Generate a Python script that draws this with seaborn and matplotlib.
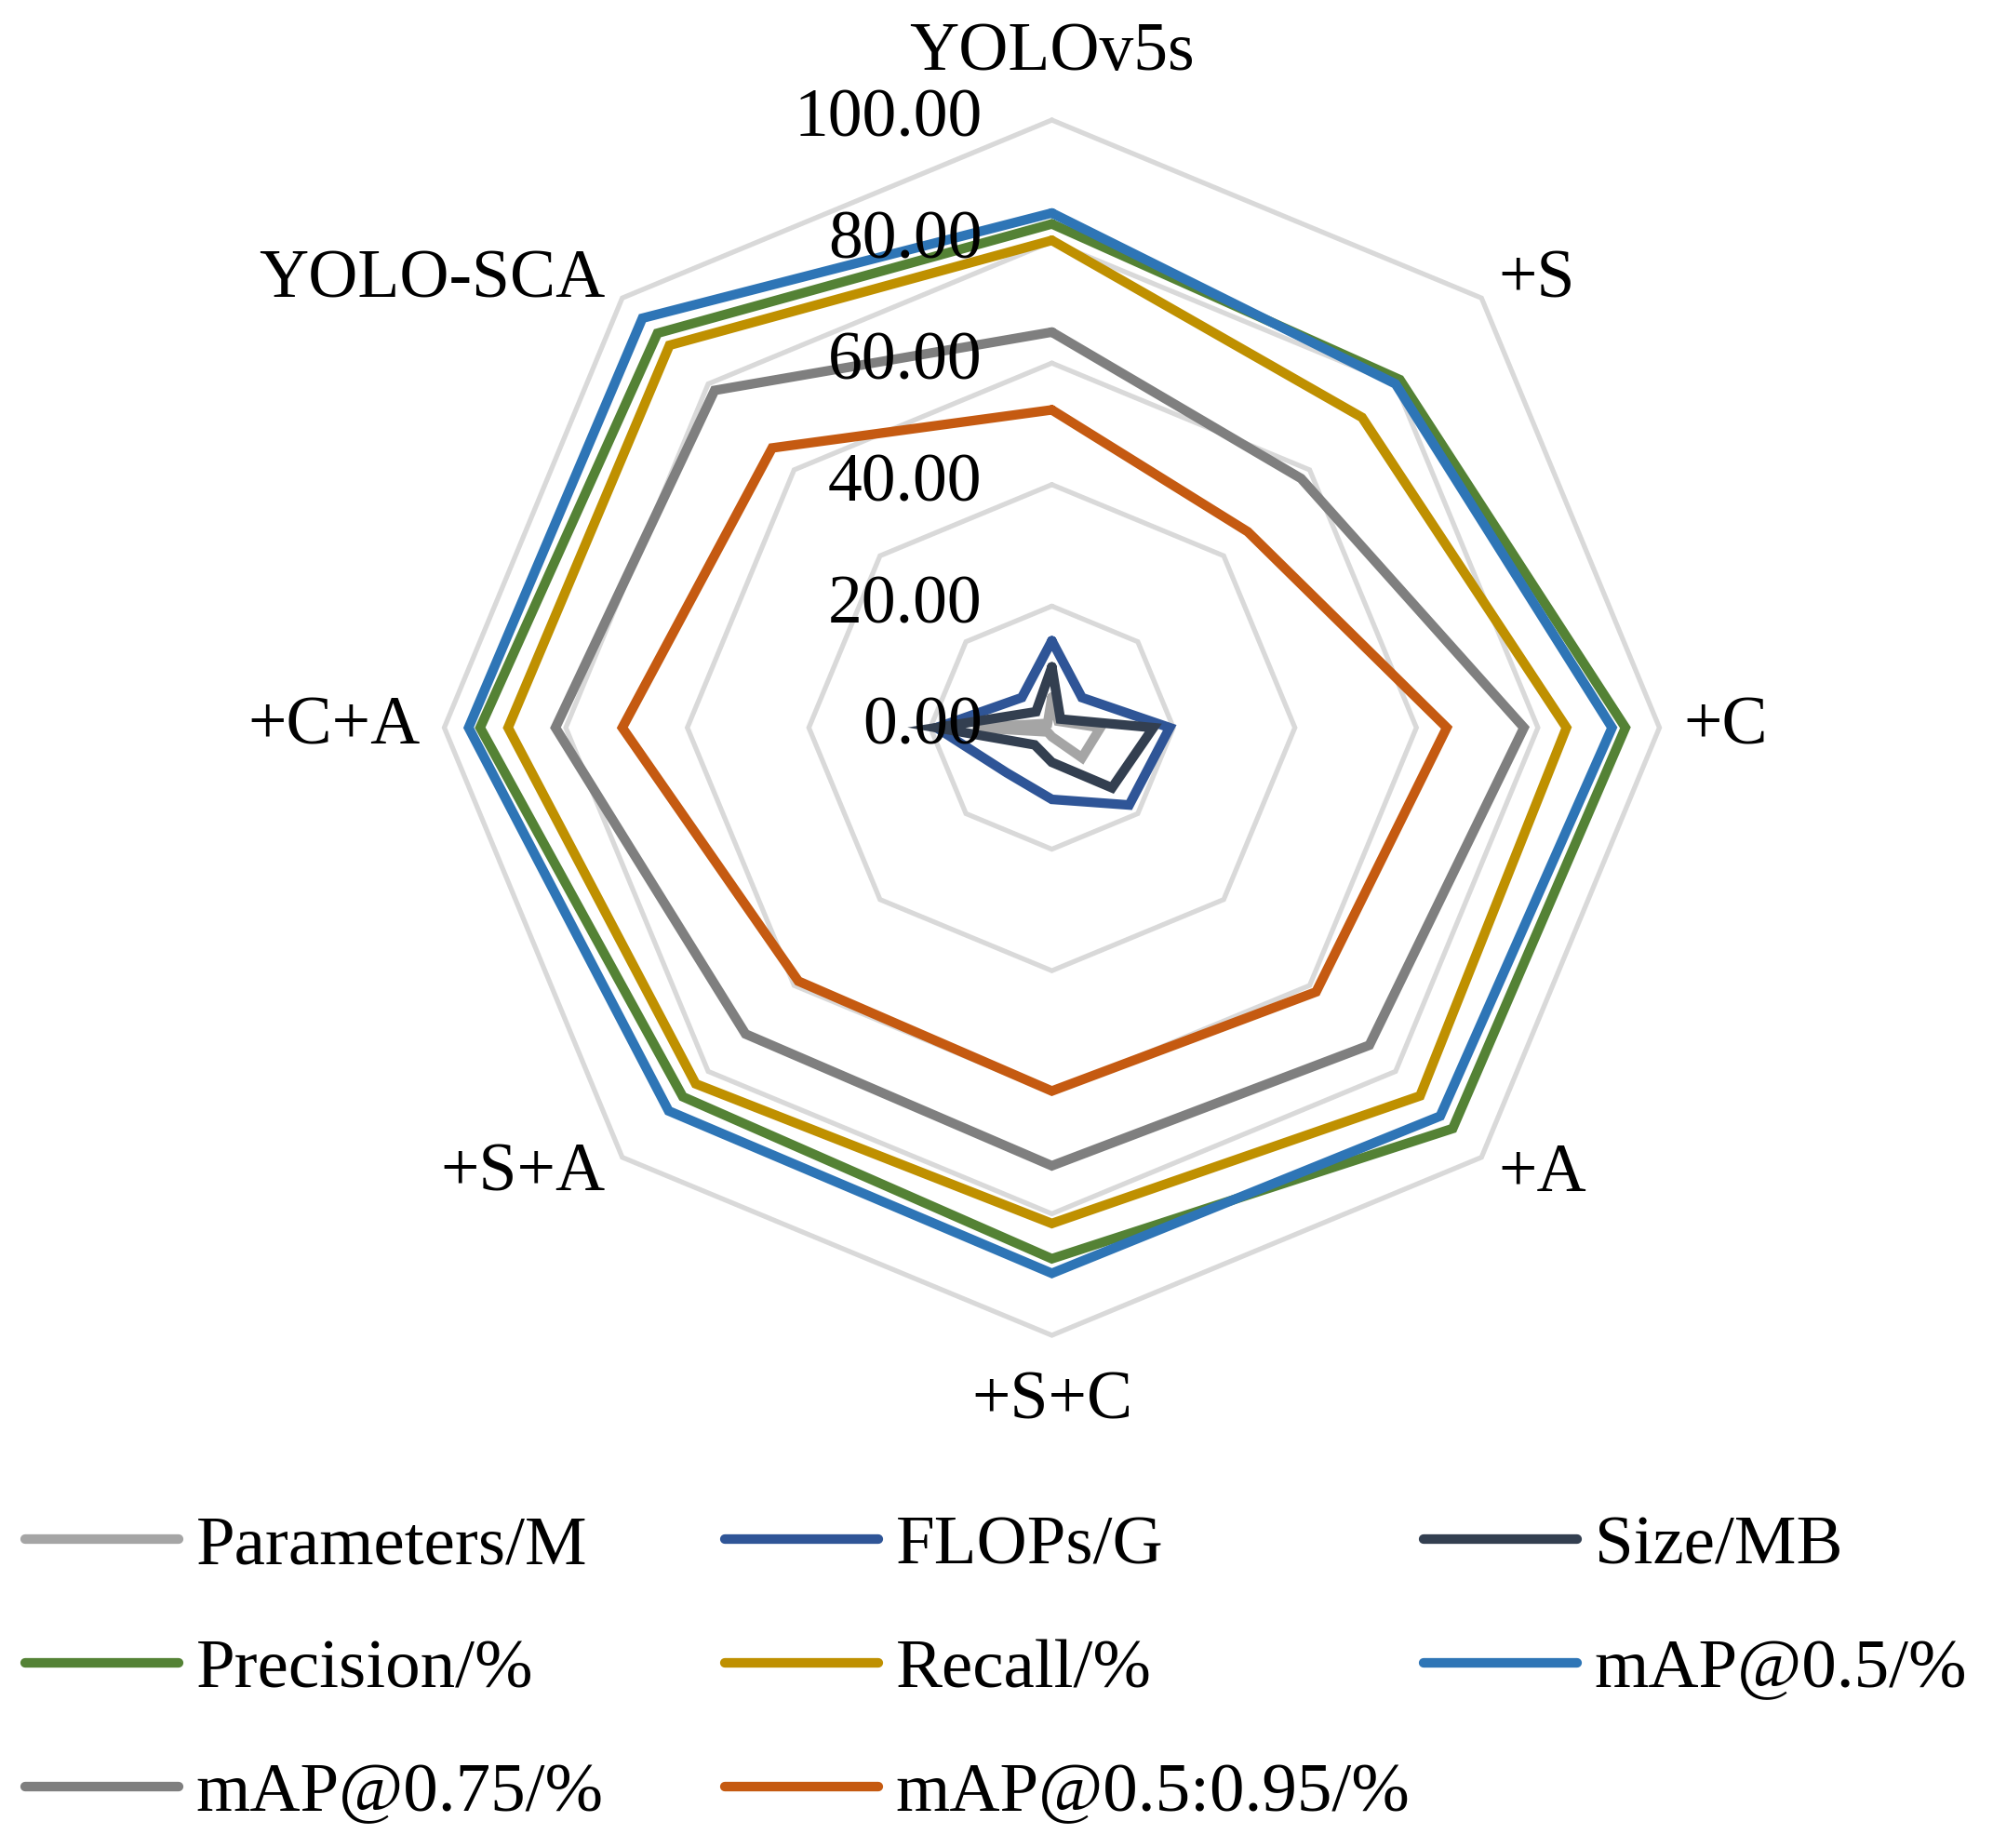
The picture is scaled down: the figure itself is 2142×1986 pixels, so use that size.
import numpy as np
import pandas as pd
import matplotlib
matplotlib.use("Agg")
import matplotlib.pyplot as plt
from matplotlib.lines import Line2D
import seaborn as sns

categories = ["YOLOv5s", "+S", "+C", "+A", "+S+C", "+S+A", "+C+A", "YOLO-SCA"]

params = [5.0, 1.5, 8.0, 7.0, 1.5, 1.0, 13.0, 1.0]
flops = [14.3, 7.0, 19.4, 18.0, 11.8, 10.5, 19.0, 7.0]
size_mb = [10.0, 2.0, 16.7, 14.0, 5.7, 4.0, 19.0, 3.7]
precision = [82.9, 81.0, 94.4, 93.3, 87.4, 85.9, 94.1, 91.8]
recall = [80.2, 72.2, 84.7, 85.7, 81.6, 82.9, 89.5, 89.0]
map50 = [84.7, 80.0, 92.2, 90.4, 89.8, 89.2, 96.0, 95.3]
map75 = [65.1, 58.0, 77.7, 73.9, 72.1, 71.3, 81.7, 78.5]
map5095 = [52.3, 45.6, 65.0, 61.5, 59.8, 59.0, 70.7, 65.1]

series_names = ["Parameters/M", "FLOPs/G", "Size/MB", "Precision/%",
                "Recall/%", "mAP@0.5/%", "mAP@0.75/%", "mAP@0.5:0.95/%"]
series_values = [params, flops, size_mb, precision, recall, map50, map75, map5095]
colors = ["#A5A5A5", "#2F5597", "#333F50", "#548235",
          "#BF9000", "#2E75B6", "#7F7F7F", "#C55A11"]
ring_values = [20, 40, 60, 80, 100]
tick_values = [0, 20, 40, 60, 80, 100]

sns.set_style("white")
plt.rcParams["font.family"] = ["Liberation Serif", "DejaVu Serif"]
plt.rcParams["text.color"] = "black"
FS = 53

W, H = 2142, 1986
fig = plt.figure(figsize=(W / 100, H / 100), dpi=100)
cx, cy, R = 1130.5, 782, 653
ax = fig.add_axes([(cx - R) / W, (H - cy - R) / H, 2 * R / W, 2 * R / H], polar=True)
ax.set_theta_zero_location("N")
ax.set_theta_direction(-1)
ax.set_ylim(0, 100)
ax.grid(False)
ax.spines["polar"].set_visible(False)
ax.set_xticks([])
ax.set_yticks([])
ax.patch.set_alpha(0)

n = len(categories)
theta = np.linspace(0, 2 * np.pi, n, endpoint=False)
theta_c = np.append(theta, 2 * np.pi)

# octagonal grid rings
for rv in ring_values:
    ax.plot(theta_c, [rv] * (n + 1), color="#D9D9D9", lw=3.8,
            clip_on=False, zorder=1, solid_joinstyle="miter")

rows = []
for name, vals in zip(series_names, series_values):
    for t, v in zip(theta_c, list(vals) + [vals[0]]):
        rows.append({"series": name, "theta": t, "value": v})
df = pd.DataFrame(rows)

sns.lineplot(data=df, x="theta", y="value", hue="series", hue_order=series_names,
             palette=dict(zip(series_names, colors)), sort=False, estimator=None,
             linewidth=7.4, legend=False, ax=ax)
for ln in ax.lines[len(ring_values):]:
    ln.set_clip_on(False)
    ln.set_solid_joinstyle("miter")
    ln.set_zorder(2)
ax.set_xlabel("")
ax.set_ylabel("")

# radial value labels
for tv in tick_values:
    ax.annotate(f"{tv:.2f}", xy=(0, tv), xytext=(-75, 0), textcoords="offset pixels",
                ha="right", va="center", fontsize=FS, color="black", zorder=5)

# category labels
for t, lab in zip(theta, categories):
    deg = np.degrees(t)
    if np.isclose(deg, 0) or np.isclose(deg, 180):
        ax.text(t, 111, lab, ha="center", va="center", fontsize=FS, color="black")
    elif deg < 180:
        ax.text(t, 104, lab, ha="left", va="center", fontsize=FS, color="black")
    else:
        ax.text(t, 104, lab, ha="right", va="center", fontsize=FS, color="black")

# legend in three fixed-width columns
col_x = [27, 779, 1530]
for c in range(3):
    idx = [i for i in range(c, len(series_names), 3)]
    handles = [Line2D([0], [0], color=colors[i], lw=7.4, solid_capstyle="round") for i in idx]
    labels = [series_names[i] for i in idx]
    leg = fig.legend(handles, labels, loc="upper left",
                     bbox_to_anchor=(col_x[c] / W, 1 - 1628 / H),
                     frameon=False, fontsize=54, handlelength=2.2, handletextpad=0.25,
                     borderpad=0, borderaxespad=0, labelspacing=0.86)
    for txt in leg.get_texts():
        txt.set_color("black")

fig.savefig("out.png", dpi=100)
